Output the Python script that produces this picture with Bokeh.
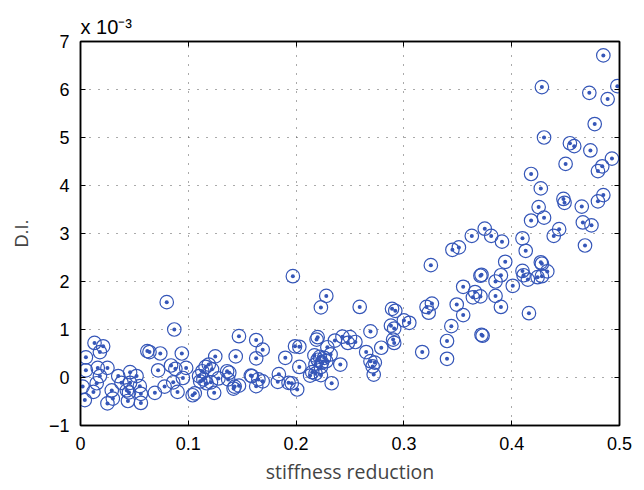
from bokeh.plotting import figure
from bokeh.models import LinearAxis, FixedTicker, Range1d, Title
from bokeh.embed import file_html
from bokeh.resources import INLINE

# stiffness reduction (x) and damage index in units of 1e-3 (y)
stiffness_reduction = [
    0.485, 0.428, 0.498, 0.472, 0.489, 0.477, 0.430, 0.454, 0.458, 0.473,
    0.493, 0.450, 0.484, 0.480, 0.418, 0.427, 0.485, 0.448, 0.449, 0.480,
    0.425, 0.465, 0.430, 0.418, 0.466, 0.474, 0.375, 0.444,
    0.439, 0.363, 0.381, 0.391, 0.410, 0.413, 0.468, 0.345, 0.351, 0.325,
    0.394, 0.371, 0.372, 0.390, 0.410, 0.411, 0.415, 0.427, 0.428, 0.433,
    0.424, 0.428, 0.385, 0.401, 0.355, 0.366, 0.364, 0.371, 0.385, 0.390,
    0.416, 0.321, 0.326, 0.323, 0.349, 0.355, 0.300, 0.305, 0.344, 0.340,
    0.372, 0.373, 0.317, 0.340,
    0.197, 0.228, 0.223, 0.259, 0.289, 0.292, 0.288, 0.291, 0.290, 0.291,
    0.269, 0.163, 0.169, 0.163, 0.199, 0.203, 0.220, 0.219, 0.229, 0.236,
    0.243, 0.248, 0.250, 0.255, 0.279, 0.265, 0.190, 0.203,
    0.217, 0.220, 0.222, 0.226, 0.224, 0.232, 0.228, 0.218, 0.223, 0.241,
    0.269, 0.271, 0.273, 0.272, 0.215, 0.218, 0.223, 0.213, 0.233, 0.184,
    0.183, 0.193, 0.196, 0.201, 0.158, 0.159, 0.165, 0.169, 0.163,
    0.080, 0.087, 0.147, 0.013, 0.021, 0.018, 0.062, 0.064, 0.074, 0.094,
    0.005, 0.125, 0.144, 0.005, 0.016, 0.025, 0.084, 0.088, 0.098, 0.072,
    0.046, 0.018, 0.035, 0.052, 0.095, 0.015, 0.002, 0.038, 0.046, 0.055,
    0.029, 0.012, 0.043, 0.045, 0.056, 0.069, 0.078, 0.086, 0.090, 0.004,
    0.025, 0.030, 0.044, 0.056, 0.104, 0.106,
    0.110, 0.113, 0.116, 0.119, 0.122, 0.128, 0.124, 0.114, 0.117, 0.111,
    0.121, 0.136, 0.138, 0.137, 0.142, 0.143, 0.147,
]
damage_index_e3 = [
    6.71, 6.05, 6.07, 5.93, 5.80, 5.28, 5.00, 4.88, 4.82, 4.73,
    4.56, 4.45, 4.40, 4.30, 4.24, 3.94, 3.80, 3.72, 3.64, 3.67,
    3.55, 3.56, 3.33, 3.27, 3.23, 3.17, 3.10, 3.09,
    2.95, 2.95, 2.95, 2.83, 2.90, 2.64, 2.75, 2.66, 2.71, 2.34,
    2.41, 2.12, 2.14, 2.13, 2.22, 2.13, 2.04, 2.40, 2.37, 2.21,
    2.09, 2.11, 2.00, 1.91, 1.89, 1.78, 1.67, 1.69, 1.70, 1.47,
    1.34, 1.47, 1.54, 1.35, 1.52, 1.30, 1.19, 1.14, 1.07, 0.76,
    0.89, 0.87, 0.53, 0.39,
    2.11, 1.70, 1.46, 1.47, 1.43, 1.39, 1.08, 1.02, 0.79, 0.72,
    0.96, 0.78, 0.58, 0.40, 0.65, 0.64, 0.84, 0.79, 0.63, 0.77,
    0.85, 0.72, 0.84, 0.74, 0.62, 0.53, 0.41, 0.22,
    0.46, 0.37, 0.43, 0.41, 0.31, 0.48, 0.34, 0.27, 0.22, 0.27,
    0.34, 0.23, 0.31, 0.06, 0.11, 0.08, 0.05, 0.04, -0.12, 0.07,
    -0.09, -0.11, -0.12, -0.25, 0.04, 0.03, -0.04, -0.08, -0.18,
    1.57, 1.00, 0.86, 0.72, 0.65, 0.53, 0.55, 0.53, 0.50, 0.50,
    0.42, 0.44, 0.44, 0.15, 0.20, 0.20, 0.25, 0.18, 0.20, 0.15,
    0.11, 0.03, 0.03, 0.03, -0.01, -0.12, -0.19, -0.11, -0.11, -0.18,
    -0.27, -0.30, -0.27, -0.31, -0.34, -0.32, -0.19, -0.10, -0.30, -0.47,
    -0.54, -0.44, -0.49, -0.53, -0.37, -0.33,
    0.03, 0.13, 0.22, 0.27, 0.17, -0.02, -0.32, -0.04, -0.12, -0.08,
    -0.10, 0.13, 0.10, -0.04, -0.23, -0.19, -0.17,
]

x_ticks = [0, 0.1, 0.2, 0.3, 0.4, 0.5]
x_tick_labels = ["0", "0.1", "0.2", "0.3", "0.4", "0.5"]
y_ticks = [-1, 0, 1, 2, 3, 4, 5, 6, 7]
y_tick_labels = ["\u22121", "0", "1", "2", "3", "4", "5", "6", "7"]
x_title = "stiffness reduction"
y_title = "D.I."
scale_note = "x 10\u207b\u00b3"

BLUE = "#3556b8"
TICK_FONT = "Liberation Sans"

p = figure(width=644, height=490, output_backend="svg", toolbar_location=None,
           x_range=Range1d(0, 0.5), y_range=Range1d(-1, 7), title=None,
           min_border_left=80, min_border_right=25, min_border_top=41, min_border_bottom=65)
p.background_fill_color = "white"
p.border_fill_color = "white"
p.outline_line_color = "black"
p.outline_line_width = 1.5

p.xaxis.ticker = FixedTicker(ticks=x_ticks)
p.yaxis.ticker = FixedTicker(ticks=y_ticks)
p.xaxis.major_label_overrides = {t: l for t, l in zip(x_ticks, x_tick_labels)}
p.yaxis.major_label_overrides = {t: l for t, l in zip(y_ticks, y_tick_labels)}

for ax in (p.xaxis[0], p.yaxis[0]):
    ax.major_tick_in = 5
    ax.major_tick_out = 0
    ax.minor_tick_line_color = None
    ax.axis_line_width = 1.5
    ax.axis_line_color = "black"
    ax.major_tick_line_color = "black"
    ax.major_label_text_font = TICK_FONT
    ax.major_label_text_font_size = "18px"
    ax.major_label_text_color = "black"

p.xaxis.major_label_standoff = 11
p.yaxis.major_label_standoff = 11
p.xaxis.axis_label = x_title
p.xaxis.axis_label_text_font = "Open Sans"
p.xaxis.axis_label_text_font_style = "normal"
p.xaxis.axis_label_text_font_size = "19.5px"
p.xaxis.axis_label_standoff = 5
p.yaxis.axis_label = y_title
p.yaxis.axis_label_text_font = TICK_FONT
p.yaxis.axis_label_text_font_style = "normal"
p.yaxis.axis_label_text_font_size = "18px"
p.yaxis.axis_label_standoff = 14

# mirrored ticks on the right and top (no labels)
for loc, ticks in (("right", y_ticks), ("above", x_ticks)):
    ax = LinearAxis(ticker=FixedTicker(ticks=ticks))
    ax.major_tick_in = 5
    ax.major_tick_out = 0
    ax.minor_tick_line_color = None
    ax.major_label_overrides = {t: "" for t in ticks}
    ax.major_label_standoff = 0
    ax.axis_line_width = 1.5
    ax.major_tick_line_color = "black"
    p.add_layout(ax, loc)

p.add_layout(Title(text=scale_note, align="left", text_font=TICK_FONT,
                   text_font_size="20px", text_font_style="normal",
                   text_color="black", standoff=7, offset=0), "above")

p.grid.grid_line_color = "#555555"
p.grid.grid_line_dash = "1 8"
p.grid.grid_line_width = 1
p.xgrid.ticker = FixedTicker(ticks=x_ticks)
p.ygrid.ticker = FixedTicker(ticks=y_ticks)

p.scatter(stiffness_reduction, damage_index_e3, marker="circle", size=13.5,
          fill_color=None, line_color=BLUE, line_width=1.2)
p.scatter(stiffness_reduction, damage_index_e3, marker="circle", size=4,
          fill_color=BLUE, line_color=None)

open("out.html", "w").write(file_html(p, INLINE))
